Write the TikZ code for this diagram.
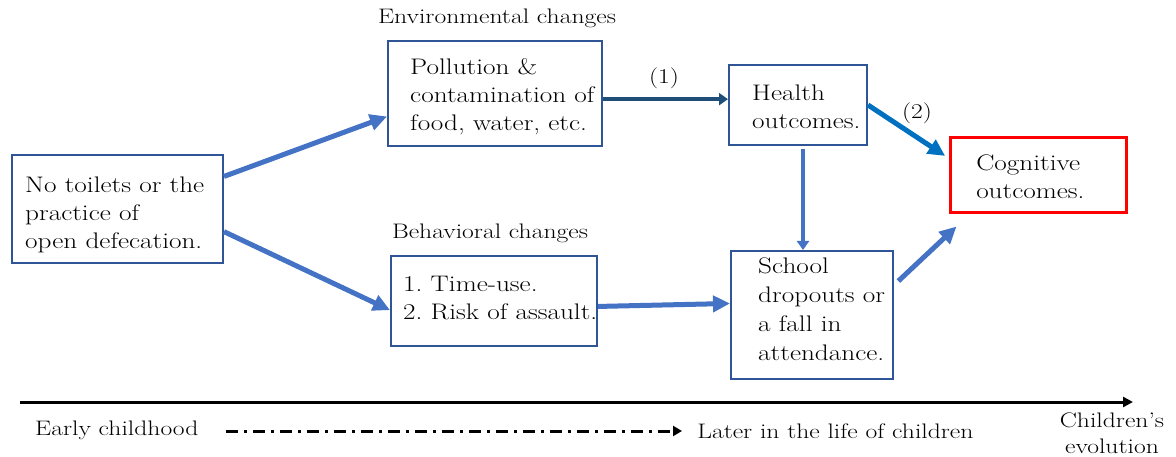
\documentclass[tikz,border=0pt]{standalone}
\usepackage{graphicx}
\usetikzlibrary{arrows.meta,calc}
\definecolor{boxblue}{RGB}{47,85,151}
\definecolor{arrblue}{RGB}{68,114,196}
\definecolor{navyarr}{RGB}{31,78,121}
\definecolor{brightblue}{RGB}{0,112,192}
\definecolor{cogred}{RGB}{255,0,0}
\begin{document}
\begin{tikzpicture}[x=1pt,y=-1pt,
  box/.style={draw=boxblue,line width=2pt,rectangle,inner sep=0pt},
  redbox/.style={draw=cogred,line width=3pt,rectangle,inner sep=0pt},
  txt/.style={inner sep=0pt,anchor=west,align=left,xscale=1.21,transform shape,font=\fontsize{22.5}{28}\selectfont},
  lbl/.style={inner sep=0pt,xscale=1.22,transform shape,font=\fontsize{21}{26}\selectfont},
  barrow/.style={draw=arrblue,line width=5pt,-{Triangle[length=17pt,width=16pt]}},
  tline/.style={draw=black,line width=3pt,-{Triangle[length=10pt,width=10pt]}},
  ddarrow/.style={draw=black,line width=3pt,dash pattern=on 12pt off 6pt on 3pt off 6pt,-{Triangle[length=9pt,width=10pt]}}
]
\useasboundingbox (0,0) rectangle (1176,457);
% boxes
\node[box,minimum width=211pt,minimum height=108pt] (A) at (117.5,209) {};
\node[box,minimum width=214pt,minimum height=105pt] (B) at (495,93.5) {};
\node[box,minimum width=206pt,minimum height=90pt] (C) at (494,301) {};
\node[box,minimum width=138pt,minimum height=80pt] (D) at (798,105) {};
\node[box,minimum width=162pt,minimum height=128pt] (E) at (812,315) {};
\node[redbox,minimum width=176pt,minimum height=75pt] (F) at (1038,175.5) {};
% box texts
\node[txt] (At) at (25,215) {No toilets or the\\practice of\\open defecation.};
\node[txt] (Bt) at (410,97) {Pollution \&\\contamination of\\food, water, etc.};
\node[txt] (Ct) at (403,298) {1.\ Time-use.\\2.\ Risk of assault.};
\node[txt] (Dt) at (752,107) {Health\\outcomes.};
\node[txt,font=\fontsize{22.5}{29}\selectfont] (Et) at (758,309.5) {School\\dropouts or\\a fall in\\attendance.};
\node[txt] (Ft) at (976,177) {Cognitive\\outcomes.};
% labels
\node[lbl] (envl) at (497,18) {Environmental changes};
\node[lbl] (behl) at (490,233) {Behavioral changes};
\node[lbl] (l1) at (664,78) {(1)};
\node[lbl] (l2) at (917,113) {(2)};
% arrows
\draw[barrow] (A.17) -- (B.192);
\draw[barrow] (A.-12) -- (C.185);
\draw[barrow,draw=navyarr,line width=4pt,-{Triangle[length=9pt,width=12pt]}] (B.-3) -- (B.-3 -| D.west);
\draw[barrow,draw=brightblue,shorten >=4pt] (D.east) -- (F.169);
\draw[barrow,line width=4.5pt,-{Triangle[length=9pt,width=12pt]}] ([xshift=5pt,yshift=-3pt]D.south) -- ([xshift=5pt]D.south |- E.north);
\draw[barrow] (C.-3) -- (E.172);
\coordinate (Fin) at ($(F.south west)+(8,12)$);
\draw[barrow,shorten <=6pt] (E.20) -- (Fin);
% timeline
\coordinate (t0) at (20,402);
\coordinate (t1) at (1133,402);
\draw[tline] (t0) -- (t1);
\node[lbl,anchor=west] (early) at (35,430) {Early childhood};
\node[lbl,anchor=west] (later) at (697,431) {Later in the life of children};
\node[lbl,align=center] (evo) at (1112,433) {Children’s\\evolution};
\coordinate (d1) at (682,431);
\coordinate (d0) at (226,431);
\draw[ddarrow] (d0) -- (d1);
\end{tikzpicture}
\end{document}
